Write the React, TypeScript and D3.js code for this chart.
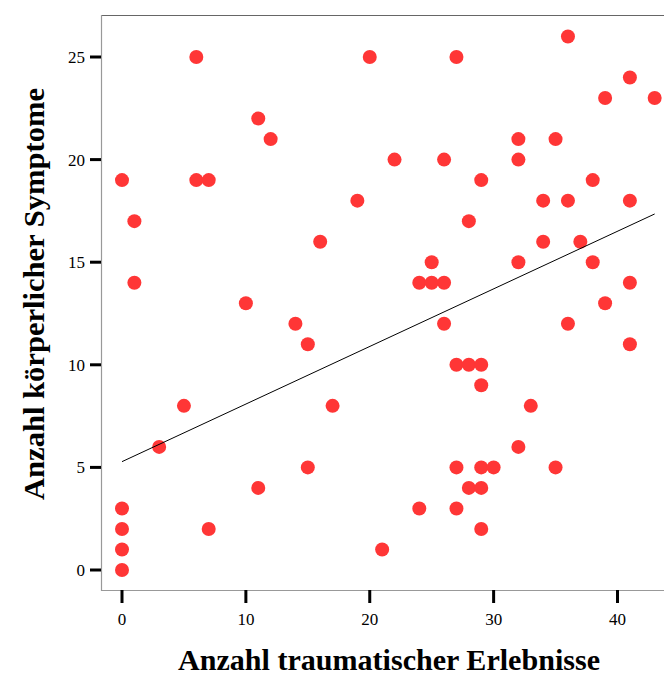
import { useEffect, useRef } from 'react';
import * as d3 from 'd3';

// Anzahl traumatischer Erlebnisse (x) / Anzahl körperlicher Symptome (y)
const erlebnisse = [
  0, 0, 0, 0, 0, 1, 1, 3, 5, 6, 6, 7, 7, 10, 11, 11, 12, 14, 15, 15, 16, 17, 19, 20, 21, 22,
  24, 24, 25, 25, 26, 26, 26, 27, 27, 27, 27, 28, 28, 28, 29, 29, 29, 29, 29, 29, 30,
  32, 32, 32, 32, 33, 34, 34, 35, 35, 36, 36, 36, 37, 38, 38, 39, 39, 41, 41, 41, 41, 43,
];
const symptome = [
  19, 3, 2, 1, 0, 17, 14, 6, 8, 25, 19, 19, 2, 13, 22, 4, 21, 12, 11, 5, 16, 8, 18, 25, 1, 20,
  14, 3, 15, 14, 20, 14, 12, 25, 10, 5, 3, 17, 10, 4, 19, 10, 9, 5, 4, 2, 5,
  21, 20, 15, 6, 8, 18, 16, 21, 5, 26, 18, 12, 16, 19, 15, 23, 13, 24, 18, 14, 11, 23,
];

const fitX = [0, 43];
const fitY = [5.28, 17.35];

const xTicks = [0, 10, 20, 30, 40];
const yTicks = [0, 5, 10, 15, 20, 25];

const xTitle = 'Anzahl traumatischer Erlebnisse';
const yTitle = 'Anzahl körperlicher Symptome';

export default function App() {
  const svgRef = useRef<SVGSVGElement>(null);

  useEffect(() => {
    const width = 664;
    const height = 678;
    const left = 101;
    const top = 15;
    const bottom = 590;

    const svg = d3.select(svgRef.current);
    svg.selectAll('*').remove();

    const x = d3.scaleLinear().domain([0, 40]).range([122, 617.5]);
    const y = d3.scaleLinear().domain([0, 25]).range([570, 57]);

    const font = 'Liberation Serif, serif';

    // Rahmen
    svg.append('line')
      .attr('x1', left).attr('x2', width)
      .attr('y1', top + 0.5).attr('y2', top + 0.5)
      .attr('stroke', '#666').attr('stroke-width', 1);
    svg.append('line')
      .attr('x1', left).attr('x2', width)
      .attr('y1', bottom + 0.5).attr('y2', bottom + 0.5)
      .attr('stroke', '#999').attr('stroke-width', 1.2);
    svg.append('line')
      .attr('x1', left + 0.5).attr('x2', left + 0.5)
      .attr('y1', top).attr('y2', bottom + 1)
      .attr('stroke', '#999').attr('stroke-width', 1.2);

    // Y-Achse
    yTicks.forEach(t => {
      svg.append('line')
        .attr('x1', 90).attr('x2', left)
        .attr('y1', y(t)).attr('y2', y(t))
        .attr('stroke', '#000').attr('stroke-width', 3);
      svg.append('text')
        .attr('x', 85)
        .attr('y', y(t) + 6)
        .attr('text-anchor', 'end')
        .style('font-family', font)
        .style('font-size', '17px')
        .text(t);
    });

    // X-Achse
    xTicks.forEach(t => {
      svg.append('line')
        .attr('x1', x(t)).attr('x2', x(t))
        .attr('y1', bottom).attr('y2', 603)
        .attr('stroke', '#000').attr('stroke-width', 3);
      svg.append('text')
        .attr('x', x(t))
        .attr('y', 625)
        .attr('text-anchor', 'middle')
        .style('font-family', font)
        .style('font-size', '17px')
        .text(t);
    });

    // Punkte
    svg.append('g')
      .selectAll('circle')
      .data(erlebnisse.map((e, i) => [e, symptome[i]]))
      .join('circle')
        .attr('cx', d => x(d[0]))
        .attr('cy', d => y(d[1]))
        .attr('r', 7)
        .attr('fill', '#ff3636');

    // Anpassungslinie
    svg.append('line')
      .attr('x1', x(fitX[0])).attr('y1', y(fitY[0]))
      .attr('x2', x(fitX[1])).attr('y2', y(fitY[1]))
      .attr('stroke', '#000').attr('stroke-width', 1);

    // Titel
    svg.append('text')
      .attr('x', 389)
      .attr('y', 670)
      .attr('text-anchor', 'middle')
      .attr('textLength', 422)
      .attr('lengthAdjust', 'spacingAndGlyphs')
      .style('font-family', font)
      .style('font-size', '29px')
      .style('font-weight', 'bold')
      .text(xTitle);

    svg.append('text')
      .attr('transform', `translate(44, 294) rotate(-90)`)
      .attr('text-anchor', 'middle')
      .attr('textLength', 412)
      .attr('lengthAdjust', 'spacingAndGlyphs')
      .style('font-family', font)
      .style('font-size', '30px')
      .style('font-weight', 'bold')
      .text(yTitle);

    svg.attr('width', width).attr('height', height);
  }, []);

  return (
    <svg
      ref={svgRef}
      style={{ position: 'absolute', left: 0, top: 0, display: 'block' }}
    />
  );
}
